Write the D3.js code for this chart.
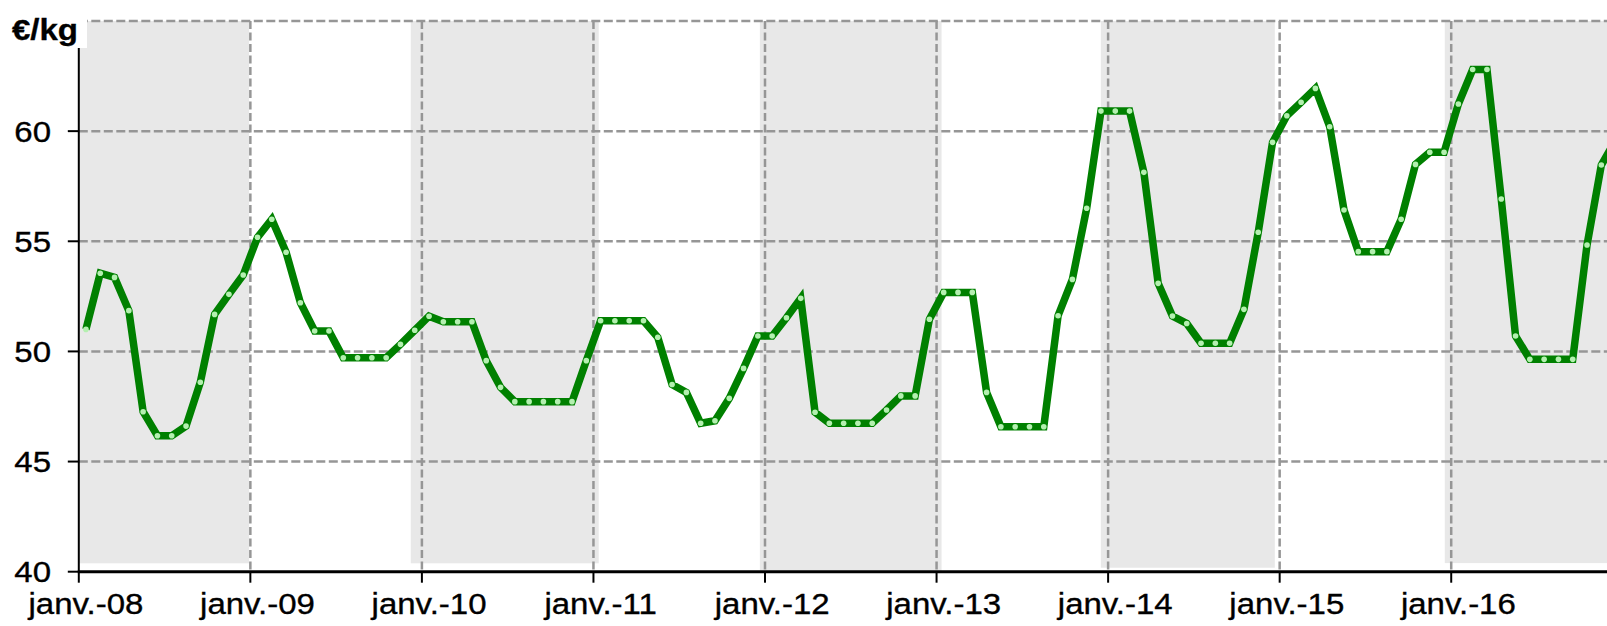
<!DOCTYPE html>
<html>
<head>
<meta charset="utf-8">
<script src="https://cdn.jsdelivr.net/npm/d3@7"></script>
<style>
  body { margin: 0; background: #fff; }
  svg { display: block; }
  text { font-family: "Liberation Sans", Arial, sans-serif; fill: #000; stroke: #000; stroke-width: 0.35; }
</style>
</head>
<body>
<svg id="chart"></svg>
<script>
// Prix mensuels (€/kg), janv.-08 -> déc.-16
var prix2008 = [51.0, 53.55, 53.36, 51.85, 47.26, 46.17, 46.17, 46.61, 48.6, 51.68, 52.59, 53.47];
var prix2009 = [55.18, 56.0, 54.5, 52.21, 50.93, 50.93, 49.71, 49.71, 49.71, 49.71, 50.32, 50.96];
var prix2010 = [51.6, 51.35, 51.35, 51.35, 49.58, 48.37, 47.72, 47.72, 47.72, 47.72, 47.72, 49.58];
var prix2011 = [51.39, 51.39, 51.39, 51.39, 50.64, 48.5, 48.14, 46.74, 46.85, 47.87, 49.23, 50.7];
var prix2012 = [50.7, 51.53, 52.41, 47.24, 46.74, 46.74, 46.74, 46.74, 47.34, 47.98, 47.98, 51.46];
var prix2013 = [52.68, 52.68, 52.68, 48.14, 46.58, 46.58, 46.58, 46.58, 51.62, 53.27, 56.5, 60.91];
var prix2014 = [60.91, 60.91, 58.13, 53.09, 51.61, 51.27, 50.37, 50.37, 50.37, 51.91, 55.41, 59.49];
var prix2015 = [60.7, 61.31, 61.94, 60.2, 56.42, 54.53, 54.53, 54.53, 56.0, 58.49, 59.04, 59.04];
var prix2016 = [61.23, 62.8, 62.8, 56.92, 50.7, 49.64, 49.64, 49.64, 49.64, 54.83, 58.46, 59.6];

var anneeLabels = ["janv.-08", "janv.-09", "janv.-10", "janv.-11", "janv.-12", "janv.-13", "janv.-14", "janv.-15", "janv.-16"];
var yTicks = [40, 45, 50, 55, 60];
var yGrid = [45, 50, 55, 60, 65];

// bandes grises (en mois depuis janv.-08)
var bandeDebut = [0, 23.22, 47.64, 71.49, 95.55];
var bandeFin = [11.91, 36.37, 60.35, 83.66, 110];
var bandeBas = [40.38, 40.38, 40.04, 40.18, 40.39];

var uniteLabel = "€/kg";

const W = 1607, H = 626;
const serie = [].concat(prix2008, prix2009, prix2010, prix2011, prix2012, prix2013, prix2014, prix2015, prix2016);
const nMois = 108;

const svg = d3.select("#chart")
    .attr("width", W)
    .attr("height", H);

const x = d3.scaleLinear().domain([0, nMois]).range([78.8, 78.8 + nMois * 14.296]);
const y = d3.scaleLinear().domain([40, 65]).range([571.7, 21]);
const etire = 1.1; // texte un peu élargi comme l'image d'origine

// bandes
svg.append("g").selectAll("rect")
    .data(bandeDebut)
    .join("rect")
    .attr("x", (d, i) => x(d))
    .attr("y", y(65))
    .attr("width", (d, i) => x(bandeFin[i]) - x(d))
    .attr("height", (d, i) => y(bandeBas[i]) - y(65))
    .attr("fill", "#e8e8e8");

// grille horizontale
svg.append("g").selectAll("line")
    .data(yGrid)
    .join("line")
    .attr("x1", x(0)).attr("x2", W)
    .attr("y1", d => y(d)).attr("y2", d => y(d))
    .attr("stroke", "#969696")
    .attr("stroke-width", 2.5)
    .attr("stroke-dasharray", "9,3.5");

// grille verticale (chaque janvier)
svg.append("g").selectAll("line")
    .data(anneeLabels.slice(1))
    .join("line")
    .attr("x1", (d, i) => x((i + 1) * 12)).attr("x2", (d, i) => x((i + 1) * 12))
    .attr("y1", y(65)).attr("y2", y(40))
    .attr("stroke", "#969696")
    .attr("stroke-width", 2.5)
    .attr("stroke-dasharray", "8,3.5");

// axes
svg.append("line")
    .attr("x1", x(0)).attr("x2", x(0))
    .attr("y1", y(65)).attr("y2", y(40))
    .attr("stroke", "#000").attr("stroke-width", 2);
svg.append("line")
    .attr("x1", x(0) - 1).attr("x2", W)
    .attr("y1", y(40)).attr("y2", y(40))
    .attr("stroke", "#000").attr("stroke-width", 3);

svg.append("g").selectAll("line")
    .data(yTicks)
    .join("line")
    .attr("x1", x(0) - 11).attr("x2", x(0))
    .attr("y1", d => y(d)).attr("y2", d => y(d))
    .attr("stroke", "#000").attr("stroke-width", 2);

svg.append("g").selectAll("text")
    .data(yTicks)
    .join("text")
    .attr("transform", d => "translate(51," + (y(d) + 10.5) + ") scale(" + etire + ",1)")
    .attr("text-anchor", "end")
    .attr("font-size", 30)
    .text(d => d);

svg.append("g").selectAll("line")
    .data(anneeLabels)
    .join("line")
    .attr("x1", (d, i) => x(i * 12)).attr("x2", (d, i) => x(i * 12))
    .attr("y1", y(40)).attr("y2", y(40) + 11)
    .attr("stroke", "#000").attr("stroke-width", 2);

svg.append("g").selectAll("text")
    .data(anneeLabels)
    .join("text")
    .attr("transform", (d, i) => "translate(" + x(i * 12 + 0.5) + ",614) scale(" + etire + ",1)")
    .attr("text-anchor", "middle")
    .attr("font-size", 30)
    .text(d => d);

// la courbe
const ligne = d3.line()
    .x((d, i) => x(i + 0.5))
    .y(d => y(d));

svg.append("path")
    .datum(serie)
    .attr("d", ligne)
    .attr("fill", "none")
    .attr("stroke", "#008000")
    .attr("stroke-width", 7.5)
    .attr("stroke-linejoin", "miter");

svg.append("g").selectAll("circle")
    .data(serie)
    .join("circle")
    .attr("cx", (d, i) => x(i + 0.5))
    .attr("cy", d => y(d))
    .attr("r", 2.8)
    .attr("fill", "#b4f0b0");

// étiquette d'unité sur fond blanc
svg.append("rect")
    .attr("x", 0).attr("y", 0)
    .attr("width", 87).attr("height", 48)
    .attr("fill", "#fff");
svg.append("text")
    .attr("transform", "translate(12,40) scale(" + etire + ",1)")
    .attr("font-size", 30)
    .attr("font-weight", "bold")
    .text(uniteLabel);
</script>
</body>
</html>
